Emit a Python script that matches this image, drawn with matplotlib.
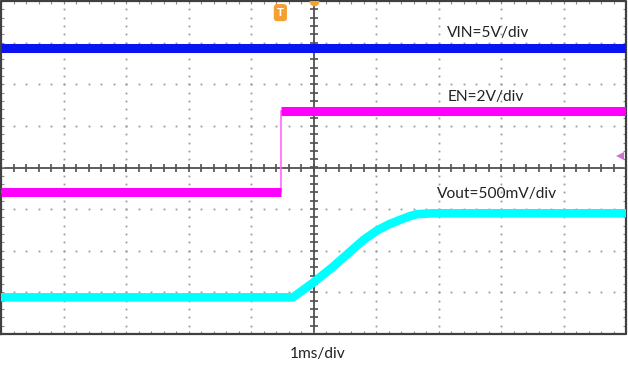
import numpy as np
import matplotlib
matplotlib.use("Agg")
import matplotlib.pyplot as plt

# scope screen: x in divisions (1 ms/div), y in divisions, centre = 0
vin_t = [-5.0, 5.0]
vin_v = [2.87, 2.87]

en_t = [-5.0, -0.52, -0.52, 5.0]
en_v = [-0.60, -0.60, 1.36, 1.36]

vout_t = [-5.0, -0.33, -0.2, 0.0, 0.3, 0.58, 0.8, 1.02, 1.2, 1.38, 1.54, 1.66, 1.91, 5.0]
vout_v = [-3.12, -3.12, -2.98, -2.76, -2.40, -2.03, -1.74, -1.51, -1.37, -1.26, -1.17, -1.12, -1.10, -1.10]

labels = ["VIN=5V/div", "EN=2V/div", "Vout=500mV/div"]
label_pos = [(2.14, 3.23), (2.14, 1.69), (1.98, -0.64)]

plt.rcParams["font.family"] = ["Lato", "DejaVu Sans"]

fig = plt.figure(figsize=(6.28, 3.65), dpi=100)
ax = fig.add_axes([1 / 628, 31 / 365, 625 / 628, 333 / 365])
ax.set_xlim(-5, 5)
ax.set_ylim(-4, 4)
ax.axis("off")

GRID = "#9a9a9a"
AXC = "#505050"

# dotted graticule
minor_x = np.arange(-5, 5.01, 0.2)
minor_y = np.arange(-4, 4.01, 0.2)
for gx in [-4, -3, -2, -1, 1, 2, 3, 4]:
    ax.plot(np.full_like(minor_y, gx), minor_y, ls="none", marker="s",
            ms=1.3, mew=0, color=GRID, zorder=1)
for gy in [-3, -2, -1, 1, 2, 3]:
    ax.plot(minor_x, np.full_like(minor_x, gy), ls="none", marker="s",
            ms=1.3, mew=0, color=GRID, zorder=1)

# centre cross with ticks
ax.axvline(0, color=AXC, lw=1.3, zorder=1)
ax.axhline(0, color=AXC, lw=1.3, zorder=1)
ax.plot(np.zeros_like(minor_y), minor_y, ls="none", marker="_", ms=6,
        mew=1.2, color=AXC, zorder=1)
ax.plot(minor_x, np.zeros_like(minor_x), ls="none", marker="|", ms=6,
        mew=1.2, color=AXC, zorder=1)

# border ticks
ax.plot(minor_x, np.full_like(minor_x, -4), ls="none", marker="|", ms=5,
        mew=0.8, color="#8a8a8a", zorder=1)
ax.plot(minor_x, np.full_like(minor_x, 4), ls="none", marker="|", ms=5,
        mew=0.8, color="#8a8a8a", zorder=1)
ax.plot(np.full_like(minor_y, -5), minor_y, ls="none", marker="_", ms=5,
        mew=0.8, color="#8a8a8a", zorder=1)
ax.plot(np.full_like(minor_y, 5), minor_y, ls="none", marker="_", ms=5,
        mew=0.8, color="#8a8a8a", zorder=1)
ax.plot([-5, 5, 5, -5, -5], [-4, -4, 4, 4, -4], color="#404040", lw=1.6,
        zorder=2, clip_on=False)

# traces
ax.plot(vin_t, vin_v, color="#0a14f0", lw=6.5, solid_capstyle="butt", zorder=3)
ax.plot(en_t, en_v, color="#ff66ff", lw=1.2, zorder=3)
ax.plot(en_t[:2], en_v[:2], color="#ff00ff", lw=6.5, solid_capstyle="butt", zorder=3)
ax.plot(en_t[2:], en_v[2:], color="#ff00ff", lw=6.5, solid_capstyle="butt", zorder=3)
ax.plot(vout_t, vout_v, color="#00ffff", lw=6.2, solid_capstyle="butt",
        solid_joinstyle="round", zorder=3)

for txt, (x, y) in zip(labels, label_pos):
    ax.text(x, y, txt, fontsize=11.2, color="#222222", ha="left", va="center",
            zorder=4)

# scope markers
ax.text(-0.53, 3.72, "T", fontsize=8.5, color="white", fontweight="bold",
        ha="center", va="center", zorder=5,
        bbox=dict(boxstyle="round,pad=0.2", fc="#f5a030", ec="#f5a030"))
ax.plot([0], [4.0], marker="o", ms=7, color="#f5a030", mew=0, zorder=5)
ax.plot([4.9], [0.27], marker="<", ms=6, color="#d070d0", mew=0, zorder=5)

fig.text(318 / 628, 11 / 365, "1ms/div", fontsize=11.2, color="#222222",
         ha="center", va="center")

fig.savefig("out.png", dpi=100)
